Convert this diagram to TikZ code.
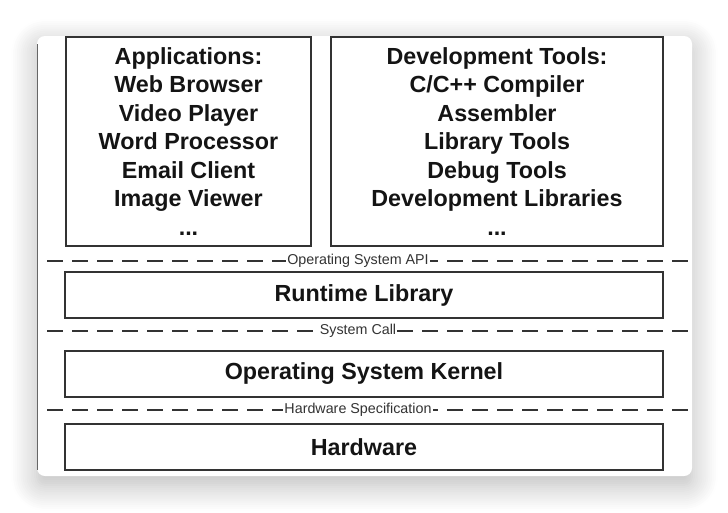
\documentclass[tikz,border=0pt]{standalone}
\usepackage{fontspec}
\setmainfont{Liberation Sans}
\usetikzlibrary{shadows.blur}
\definecolor{ink}{HTML}{141414}
\definecolor{rule}{HTML}{333333}
\begin{document}
\begin{tikzpicture}[x=1pt,y=-1pt,
		box/.style={draw=rule,line width=2pt,fill=white,inner sep=0pt,align=center,text=ink,
				font=\bfseries\fontsize{23.3}{28.5}\selectfont},
		layer/.style={box,minimum width=598pt,minimum height=46pt},
		sep/.style={draw=rule,line width=2.6pt,dash pattern=on 16pt off 9pt},
		seplabel/.style={fill=white,inner sep=1.2pt,text=rule,font=\fontsize{14.3}{16}\selectfont}]
	\useasboundingbox (0,0) rectangle (728,512);
	% card with its shadow
	\fill[white,rounded corners=8pt,
		blur shadow={shadow xshift=0pt,shadow yshift=-9pt,shadow blur radius=26pt,shadow blur steps=14,shadow opacity=28}]
		(37,36) rectangle (692,476);
	\draw[black!60,line width=1.2pt] (37.8,44) -- (37.8,470);
	% top row
	\node[box,minimum width=245pt,minimum height=209pt] (apps) at (188.5,141.5)
		{Applications:\\Web Browser\\Video Player\\Word Processor\\Email Client\\Image Viewer\\...};
	\node[box,minimum width=332pt,minimum height=209pt] (devtools) at (497,141.5)
		{Development Tools:\\C/C++ Compiler\\Assembler\\Library Tools\\Debug Tools\\Development Libraries\\...};
	% layers
	\foreach \name/\y/\txt in {runtime/295/Runtime Library,kernel/373.5/Operating System Kernel,hardware/447/Hardware}
		\node[layer] (\name) at (364,\y) {\txt};
	% interfaces between layers
	\foreach \name/\y/\txt in {api/261/Operating System API,syscall/331/System Call,hwspec/410/Hardware Specification} {
			\coordinate (\name-l) at (47,\y);
			\coordinate (\name-r) at (690,\y);
			\draw[sep] (\name-l) -- (\name-r);
			\node[seplabel] (\name) at (358,\y) {\txt};
		}
\end{tikzpicture}
\end{document}
